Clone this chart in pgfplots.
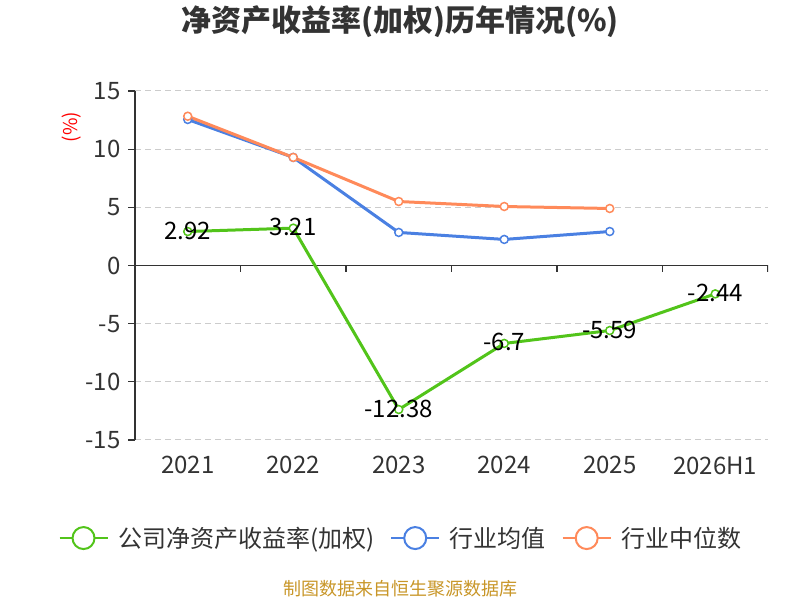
\documentclass[border=0pt]{standalone}
\usepackage{fontspec}
\setmainfont{Noto Sans CJK SC}
\usepackage{pgfplots}
\pgfplotsset{compat=1.18}
\definecolor{cgreen}{RGB}{82,196,26}
\definecolor{cblue}{RGB}{74,128,226}
\definecolor{corange}{RGB}{255,138,90}
\definecolor{txt}{RGB}{51,51,51}
\definecolor{gridc}{RGB}{204,204,204}
\definecolor{foot}{RGB}{200,150,40}
\begin{document}
\begin{tikzpicture}[x=1bp,y=1bp]
\path[use as bounding box] (0,0) rectangle (800,600);
\node[font=\fontsize{30bp}{34bp}\selectfont\bfseries, text=txt] at (400,578) {净资产收益率(加权)历年情况(\%)};
\node[font=\fontsize{18bp}{20bp}\selectfont, text=foot] at (400,11) {制图数据来自恒生聚源数据库};
\node[rotate=90, text=red, font=\fontsize{19bp}{21bp}\selectfont] at (72,473) {(\%)};
\begin{axis}[
 at={(135bp,160bp)}, anchor=south west,
 scale only axis, width=633bp, height=349bp,
 xmin=-0.5, xmax=5.5, ymin=-15, ymax=15,
 ytick={-15,-10,...,15},
 xtick={0,...,5},
 xticklabels={2021,2022,2023,2024,2025,2026H1},
 axis y line*=left, axis x line*=bottom,
 x axis line style={draw=none},
 y axis line style={draw=txt, line width=1.2bp},
 xtick style={draw=none},
 ytick style={draw=txt, line width=1.2bp},
 major tick length=7bp, tick align=outside,
 ymajorgrids,
 grid style={gridc, line width=1bp, dash pattern=on 6bp off 4bp},
 /pgf/number format/assume math mode=true,
 ticklabel style={font=\fontsize{24bp}{26bp}\selectfont, text=txt},
 xticklabel style={yshift=-6bp},
 yticklabel style={xshift=-4bp},
 legend style={at={(0.42,-0.281)}, anchor=center, draw=none, fill=none,
   legend columns=3, font=\fontsize{24bp}{27bp}\selectfont, text=txt,
   /tikz/every even column/.append style={column sep=14bp}},
 legend image code/.code={\draw[#1, line width=2bp] (0bp,0bp) -- (48bp,0bp);
   \draw[#1, line width=2bp, fill=white] (24bp,0bp) circle (11bp);
   \path (55bp,0bp);},
]
\draw[txt, line width=1.2bp] (axis cs:-0.5,0) -- (axis cs:5.5,0);
\pgfplotsinvokeforeach{0.5,1.5,2.5,3.5,4.5,5.5}{
  \draw[txt, line width=1.2bp] (axis cs:#1,0) -- ++(0bp,-7bp);
}
\addplot[cgreen, line width=3bp, mark=*, mark size=4bp,
  mark options={fill=white, draw=cgreen, line width=1.5bp},
  nodes near coords, point meta=explicit symbolic,
  every node near coord/.append style={anchor=center, yshift=1bp,
    font=\fontsize{24bp}{26bp}\selectfont, text=black}]
  table[meta=lab] {
x y lab
0 2.92 2.92
1 3.21 3.21
2 -12.38 -12.38
3 -6.7 -6.7
4 -5.59 -5.59
5 -2.44 -2.44
};
\addlegendentry{公司净资产收益率(加权)}
\addplot[cblue, line width=3bp, mark=*, mark size=4bp,
  mark options={fill=white, draw=cblue, line width=1.5bp}]
  coordinates {(0,12.55) (1,9.29) (2,2.84) (3,2.24) (4,2.92)};
\addlegendentry{行业均值}
\addplot[corange, line width=3bp, mark=*, mark size=4bp,
  mark options={fill=white, draw=corange, line width=1.5bp}]
  coordinates {(0,12.83) (1,9.29) (2,5.5) (3,5.07) (4,4.9)};
\addlegendentry{行业中位数}
\end{axis}
\end{tikzpicture}
\end{document}
